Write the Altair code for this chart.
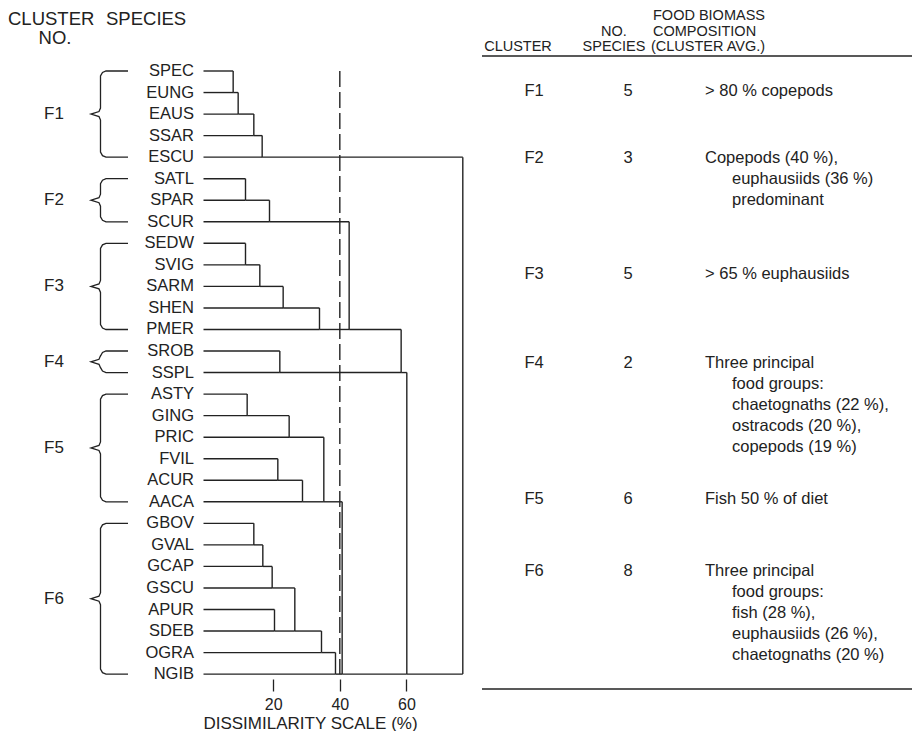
import altair as alt
import pandas as pd

# ---------------- data ----------------
species = ["SPEC", "EUNG", "EAUS", "SSAR", "ESCU",
           "SATL", "SPAR", "SCUR",
           "SEDW", "SVIG", "SARM", "SHEN", "PMER",
           "SROB", "SSPL",
           "ASTY", "GING", "PRIC", "FVIL", "ACUR", "AACA",
           "GBOV", "GVAL", "GCAP", "GSCU", "APUR", "SDEB", "OGRA", "NGIB"]
cluster_names = ["F1", "F2", "F3", "F4", "F5", "F6"]
cluster_sizes = [5, 3, 5, 2, 6, 8]

# linkage: merge k joins merge_left[k] (upper) with merge_right[k] (lower) at merge_height[k] (%)
merge_left = ["SPEC", "m0", "m1", "m2", "SATL", "m4", "SEDW", "m6", "m7", "m8", "SROB",
              "ASTY", "m11", "FVIL", "m13", "m12", "GBOV", "m16", "m17", "APUR", "m18",
              "m20", "m21", "m15", "m5", "m24", "m25", "m3"]
merge_right = ["EUNG", "EAUS", "SSAR", "ESCU", "SPAR", "SCUR", "SVIG", "SARM", "SHEN", "PMER", "SSPL",
               "GING", "PRIC", "ACUR", "AACA", "m14", "GVAL", "GCAP", "GSCU", "SDEB", "m19",
               "OGRA", "NGIB", "m22", "m9", "m10", "m23", "m26"]
merge_height = [8.0, 9.5, 14.2, 16.7, 11.7, 18.9, 11.7, 16.0, 23.0, 33.9, 22.0,
                12.2, 24.8, 21.4, 28.8, 35.2, 14.2, 16.9, 19.7, 20.4, 26.5,
                34.5, 38.7, 40.7, 42.8, 58.4, 60.1, 76.9]
cutoff_level = [40]
axis_ticks = [20, 40, 60]

table_clusters = ["F1", "F2", "F3", "F4", "F5", "F6"]
table_nspecies = ["5", "3", "5", "2", "6", "8"]
table_food = [
    ["> 80 % copepods"],
    ["Copepods (40 %),", "euphausiids (36 %)", "predominant"],
    ["> 65 % euphausiids"],
    ["Three principal", "food groups:", "chaetognaths (22 %),", "ostracods (20 %),", "copepods (19 %)"],
    ["Fish 50 % of diet"],
    ["Three principal", "food groups:", "fish (28 %),", "euphausiids (26 %),", "chaetognaths (20 %)"],
]

# ---------------- layout ----------------
FONT = "Liberation Sans"
INK = "#222222"
W, H = 905, 670
X0, XS = 206.5, 3.333      # page px of 0 %, px per %
Y0, YS = 70.0, 21.54       # page px of first row, px per row


def xv(px):
    return (px - X0) / XS


def yv(py):
    return (py - Y0) / YS


xscale = alt.Scale(domain=[xv(8), xv(8 + W)], nice=False, zero=False)
yscale = alt.Scale(domain=[yv(8), yv(8 + H)], nice=False, zero=False, reverse=True)
xaxis = alt.Axis(values=axis_ticks, domain=False, grid=False, tickSize=12, tickWidth=1.3,
                 tickColor=INK, labelFont=FONT, labelFontSize=16, labelColor=INK,
                 labelPadding=5, format="d", title="DISSIMILARITY SCALE (%)",
                 titleFont=FONT, titleFontSize=17, titleFontWeight="normal",
                 titleColor=INK, titlePadding=3, titleX=302)


def X(f):
    return alt.X(f, type="quantitative", scale=xscale, axis=xaxis)


def Y(f):
    return alt.Y(f, type="quantitative", scale=yscale, axis=None)


# dendrogram segments
LEAF_START = xv(203.5)
nodes = {s: (i, LEAF_START) for i, s in enumerate(species)}
segs = []
for k, (a, b, h) in enumerate(zip(merge_left, merge_right, merge_height)):
    ra, ha = nodes[a]
    rb, hb = nodes[b]
    segs.append(dict(x=ha, x2=h, y=ra, y2=ra))
    segs.append(dict(x=hb, x2=h, y=rb, y2=rb))
    segs.append(dict(x=h, x2=h, y=ra, y2=rb))
    nodes[f"m{k}"] = (rb, h)
seg_df = pd.DataFrame(segs)

dend = alt.Chart(seg_df).mark_rule(color=INK, strokeWidth=1.4).encode(
    x=X("x"), x2="x2", y=Y("y"), y2="y2")

cut_df = pd.DataFrame({"x": cutoff_level, "y": [0], "y2": [len(species) - 1]})
cut = alt.Chart(cut_df).mark_rule(color=INK, strokeWidth=1.4, strokeDash=[16, 5]).encode(
    x=X("x"), y=Y("y"), y2="y2")

# species labels
sp_df = pd.DataFrame({"name": species, "row": list(range(len(species)))})
sp_df["x"] = xv(194)
sp_text = alt.Chart(sp_df).mark_text(align="right", baseline="middle", font=FONT,
                                     fontSize=16.5, color=INK).encode(
    x=X("x"), y=Y("row"), text="name")

# braces + cluster labels
brace_rows = []
lab_rows = []
start = 0
for name, n in zip(cluster_names, cluster_sizes):
    t, b = start, start + n - 1
    m = (t + b) / 2
    d = 1 / YS
    pts = [(128, t, 0), (106, t, 0), (102.5, t, 1.5), (100.5, t, 5), (100.5, m, -6),
           (99, m, -2.5), (91, m, 0), (99, m, 2.5), (100.5, m, 6), (100.5, b, -5),
           (102.5, b, -1.5), (106, b, 0), (128, b, 0)]
    for i, (px, r, off) in enumerate(pts):
        brace_rows.append(dict(cluster=name, i=i, x=xv(px), y=r + off * d))
    lab_rows.append(dict(name=name, x=xv(54), y=m))
    start += n
brace = alt.Chart(pd.DataFrame(brace_rows)).mark_line(color=INK, strokeWidth=1.3).encode(
    x=X("x"), y=Y("y"), order="i:Q", detail="cluster:N")
clab = alt.Chart(pd.DataFrame(lab_rows)).mark_text(align="center", baseline="middle", font=FONT,
                                                   fontSize=17, color=INK).encode(
    x=X("x"), y=Y("y"), text="name")

# headers and table text (page px positions)
left_items = [("CLUSTER", 8, 18, 18.5), ("SPECIES", 106, 18, 18.5),
              ("FOOD BIOMASS", 653, 15, 14.5), ("COMPOSITION", 653, 30.5, 14.5),
              ("(CLUSTER AVG.)", 651, 46, 14.5)]
center_items = [("NO.", 55, 37, 18.5), ("CLUSTER", 518, 46, 14.5), ("NO.", 614, 30.5, 14.5),
                ("SPECIES", 614, 46, 14.5)]
row_y = [90, 157, 273, 362, 498, 570]
LINE = 21.0
for c, n, lines, y in zip(table_clusters, table_nspecies, table_food, row_y):
    center_items.append((c, 534, y, 16.5))
    center_items.append((n, 628, y, 16.5))
    for j, ln in enumerate(lines):
        left_items.append((ln, 705 if j == 0 else 732, y + j * LINE, 16.5))


def text_df(items):
    return pd.DataFrame([dict(t=t, x=xv(px), y=yv(py), s=s) for t, px, py, s in items])


txt_left = alt.Chart(text_df(left_items)).mark_text(align="left", baseline="middle", font=FONT,
                                                    color=INK).encode(
    x=X("x"), y=Y("y"), text="t", size=alt.Size("s:Q", scale=None, legend=None))
txt_center = alt.Chart(text_df(center_items)).mark_text(align="center", baseline="middle",
                                                        font=FONT, color=INK).encode(
    x=X("x"), y=Y("y"), text="t", size=alt.Size("s:Q", scale=None, legend=None))

rules_df = pd.DataFrame({"x": [xv(482), xv(482)], "x2": [xv(912), xv(912)],
                         "y": [yv(55), yv(688)]})
table_rules = alt.Chart(rules_df).mark_rule(color=INK, strokeWidth=1.4).encode(
    x=X("x"), x2="x2", y=Y("y"))

chart = alt.layer(dend, cut, sp_text, brace, clab, txt_left, txt_center, table_rules).properties(
    width=W, height=H, padding=0, background="white"
).configure_view(stroke=None)

chart.save("out.html", embed_options={"renderer": "svg", "actions": False})
